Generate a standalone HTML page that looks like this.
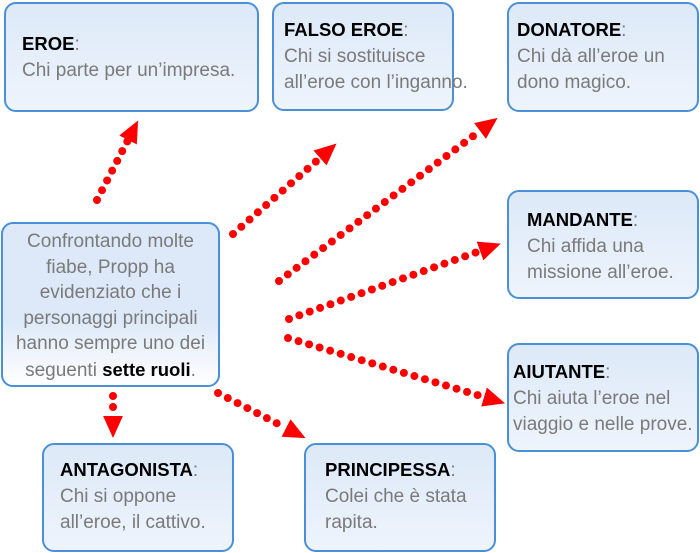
<!DOCTYPE html>
<html><head><style>
body{margin:0;width:700px;height:553px;background:#fff;position:relative;overflow:hidden;font-family:"Liberation Sans",sans-serif;}
.b{position:absolute;box-sizing:border-box;border:2px solid #4a90d9;border-radius:12px;background:linear-gradient(#dde9f8,#eef4fc);}
.t{position:absolute;font-size:19px;line-height:26px;color:#7a7a7a;white-space:nowrap;}
.t b{color:#000;font-weight:bold;font-size:18.5px;}
</style></head><body>
<div class="b" style="left:4px;top:2px;width:255px;height:110px"></div>
<div class="t" style="left:22px;top:31px"><b>EROE</b>:<br>Chi parte per un’impresa.</div>
<div class="b" style="left:272px;top:2px;width:182px;height:109px"></div>
<div class="t" style="left:284px;top:17px"><b>FALSO EROE</b>:<br>Chi si sostituisce<br>all’eroe con l’inganno.</div>
<div class="b" style="left:507px;top:2px;width:192px;height:110px"></div>
<div class="t" style="left:517px;top:17px"><b>DONATORE</b>:<br>Chi dà all’eroe un<br>dono magico.</div>
<div class="b" style="left:507px;top:190px;width:192px;height:109px"></div>
<div class="t" style="left:527px;top:207px"><b>MANDANTE</b>:<br>Chi affida una<br>missione all’eroe.</div>
<div class="b" style="left:507px;top:343px;width:192px;height:109px"></div>
<div class="t" style="left:513px;top:359px"><b>AIUTANTE</b>:<br>Chi aiuta l’eroe nel<br>viaggio e nelle prove.</div>
<div class="b" style="left:1px;top:222px;width:219px;height:165px;background:linear-gradient(#dde9f8 60%,#fff)"></div>
<div class="t" style="left:1px;top:229px;width:219px;text-align:center;line-height:25.6px">Confrontando molte<br>fiabe, Propp ha<br>evidenziato che i<br>personaggi principali<br>hanno sempre uno dei<br>seguenti <b>sette ruoli</b>.</div>
<div class="b" style="left:42px;top:443px;width:192px;height:109px"></div>
<div class="t" style="left:60px;top:457px"><b>ANTAGONISTA</b>:<br>Chi si oppone<br>all’eroe, il cattivo.</div>
<div class="b" style="left:304px;top:443px;width:192px;height:109px"></div>
<div class="t" style="left:325px;top:457px"><b>PRINCIPESSA</b>:<br>Colei che è stata<br>rapita.</div>
<svg width="700" height="553" style="position:absolute;left:0;top:0">
<defs><marker id="a" markerUnits="userSpaceOnUse" markerWidth="22" markerHeight="22" refX="0" refY="10" orient="auto" viewBox="0 0 20 20"><path d="M0,1 L20,10 L0,19 Z" fill="#f00"/></marker></defs>
<g stroke="#f00" stroke-width="8" stroke-linecap="round" stroke-dasharray="0 11" fill="none">
<line x1="97" y1="200" x2="128" y2="140" marker-end="url(#a)"/>
<line x1="233" y1="234" x2="320" y2="158" marker-end="url(#a)"/>
<line x1="279" y1="281" x2="480" y2="131" marker-end="url(#a)"/>
<line x1="289" y1="319" x2="480" y2="251" marker-end="url(#a)"/>
<line x1="288" y1="338" x2="484" y2="397" marker-end="url(#a)"/>
<line x1="113" y1="396" x2="113" y2="416" marker-end="url(#a)"/>
<line x1="218" y1="393" x2="286" y2="428" marker-end="url(#a)"/>
</g>
</svg>
</body></html>
